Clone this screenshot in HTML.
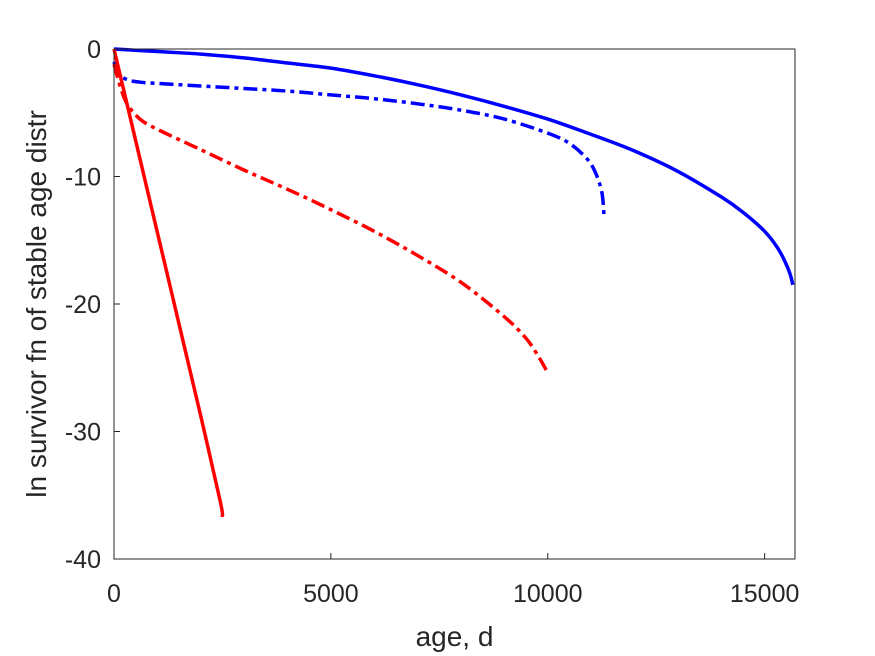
<!DOCTYPE html>
<html><head><meta charset="utf-8"><style>
body{margin:0;background:#fff;}
svg{display:block;font-family:"Liberation Sans",Arial,sans-serif;}
</style></head><body>
<svg id="chart" width="875" height="656">
<g id="series"></g>
<g id="axes"></g>
</svg>
<script>
const xTicks=[0,5000,10000,15000];
const yTicks=[0,-10,-20,-30,-40];
const blueSolidX=[0,1000,2000,3000,4000,5000,6000,7000,8000,9000,10000,11000,12000,13000,14000,14500,15000,15300,15500,15600,15650];
const blueSolidY=[0,-0.2,-0.4,-0.7,-1.1,-1.5,-2.1,-2.8,-3.6,-4.5,-5.5,-6.7,-8.0,-9.6,-11.6,-12.8,-14.3,-15.6,-16.9,-17.8,-18.5];
const blueDashX=[0,100,300,600,1000,2000,3000,4000,5000,6000,7000,8000,9000,10000,10500,10900,11100,11250,11300];
const blueDashY=[-1.0,-1.9,-2.4,-2.6,-2.7,-2.9,-3.1,-3.3,-3.6,-3.9,-4.3,-4.8,-5.5,-6.6,-7.4,-8.6,-9.7,-11.3,-13.3];
const redDashX=[0,150,300,600,1000,2000,3000,4000,5000,6000,7000,8000,9000,9500,9800,10000];
const redDashY=[-1.2,-3.0,-4.3,-5.5,-6.3,-7.9,-9.5,-11.0,-12.6,-14.3,-16.2,-18.3,-21.0,-22.7,-24.2,-25.4];
const redSolidX=[0,500,1000,1500,2000,2450,2500];
const redSolidY=[0,-7.2,-14.4,-21.6,-28.8,-35.5,-36.7];
const L=114,R=795,T=49,B=559,XMAX=15700;
const sx=v=>L+v/XMAX*(R-L);
const sy=v=>T+(-v)/40*(B-T);
const NS="http://www.w3.org/2000/svg";
function mk(tag,attrs,parent){const e=document.createElementNS(NS,tag);for(const k in attrs)e.setAttribute(k,attrs[k]);parent.appendChild(e);return e;}
const axes=document.getElementById('axes'),series=document.getElementById('series');
const box=mk('rect',{x:L,y:T,width:R-L,height:B-T,fill:'none',stroke:'#262626','stroke-width':1},axes);


xTicks.forEach(v=>{
  const t=mk('line',{x1:sx(v),x2:sx(v),y1:B,y2:B-6,stroke:'#262626'},axes);
  
  
  const tx=mk('text',{x:sx(v),y:B+43,'text-anchor':'middle','font-size':25,fill:'#262626'},axes);
  tx.textContent=v;
  
  
});
yTicks.forEach(v=>{
  const t=mk('line',{x1:L,x2:L+6,y1:sy(v),y2:sy(v),stroke:'#262626'},axes);
  
  
  const tx=mk('text',{x:L-13,y:sy(v)+9,'text-anchor':'end','font-size':25,fill:'#262626'},axes);
  tx.textContent=v;
  
  
});
const xl=mk('text',{x:(L+R)/2,y:646,'text-anchor':'middle','font-size':28,fill:'#262626'},axes);
xl.textContent='age, d';


const yl=mk('text',{x:0,y:0,transform:'translate(46,304) rotate(-90)','text-anchor':'middle','font-size':28,fill:'#262626'},axes);
yl.textContent='ln survivor fn of stable age distr';


function line(xs,ys,color,dash,name){
  const P=xs.map((x,i)=>[sx(x),sy(ys[i])]);
  let d='M'+P[0][0].toFixed(1)+','+P[0][1].toFixed(1);
  for(let i=0;i<P.length-1;i++){
    const p0=P[Math.max(0,i-1)],p1=P[i],p2=P[i+1],p3=P[Math.min(P.length-1,i+2)];
    const c1=[p1[0]+(p2[0]-p0[0])/6,p1[1]+(p2[1]-p0[1])/6];
    const c2=[p2[0]-(p3[0]-p1[0])/6,p2[1]-(p3[1]-p1[1])/6];
    d+='C'+c1.map(n=>n.toFixed(1)).join(',')+' '+c2.map(n=>n.toFixed(1)).join(',')+' '+p2.map(n=>n.toFixed(1)).join(',');
  }
  const p=mk('path',{d:d,fill:'none',stroke:color,'stroke-width':3.5,'stroke-linejoin':'round'},series);
  if(dash)p.setAttribute('stroke-dasharray','14,5,4,5');
  
  
}
line(blueSolidX,blueSolidY,'#0000ff',false,'blue-solid-line');
line(blueDashX,blueDashY,'#0000ff',true,'blue-dashdot-line');
line(redDashX,redDashY,'#ff0000',true,'red-dashdot-line');
line(redSolidX,redSolidY,'#ff0000',false,'red-solid-line');
</script>
</body></html>
